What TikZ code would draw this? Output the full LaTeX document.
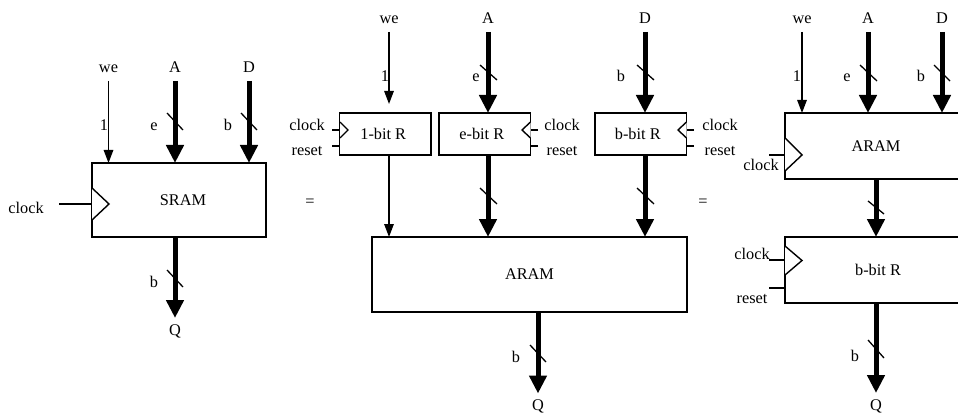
\documentclass[tikz,border=0pt]{standalone}
\usepackage{fontspec}
\setmainfont{Liberation Serif}
\usetikzlibrary{arrows.meta}
\tikzset{
  x=1pt,y=-1pt,
  every node/.style={font=\fontsize{16.3}{18}\selectfont,text=black},
  lab/.style={inner sep=0pt,outer sep=0pt,text height=13pt,text depth=2pt},
  term/.style={lab,minimum height=28pt},
  qterm/.style={lab,minimum height=23pt},
  blk/.style={draw=black,line width=1.4pt,fill=white,inner sep=0pt,outer sep=0pt},
  wire/.style={line width=1.4pt,draw=black},
  bus/.style={line width=5pt,draw=black},
  thinarrow/.style={wire,-{Triangle[length=13pt,width=9.5pt]}},
  busarrow/.style={bus,-{Triangle[length=18pt,width=17pt]}},
  slash/.style={line width=1.3pt,draw=black},
  tick/.style={wire},
  clk/.style={wire,fill=white,line join=miter},
}
\begin{document}
\begin{tikzpicture}
\clip (0,0) rectangle (958,414);
\fill[white] (0,0) rectangle (958,414);

% ---- left: SRAM
\node[blk,minimum width=174pt,minimum height=74pt] (sram) at (179,200) {\hspace*{8pt}SRAM};
\node[term] (we1) at (108.5,67) {we};
\node[term] (a1) at (175,67) {A};
\node[term] (d1) at (249,67) {D};
\node[qterm] (q1) at (175,329.5) {Q};
\node[lab] (n1) at (104,125) {1};
\node[lab] (e1) at (154,125) {e};
\node[lab] (b1) at (228,125) {b};
\node[lab] (b1o) at (154,282) {b};
\node[lab] (ck1t) at (26,208) {clock};
\node[lab] (eq1) at (310,201) {=};
\coordinate (ck1) at (59,204);
\draw[thinarrow] (we1.south) -- (we1.south |- sram.north);
\draw[busarrow] (a1.south) -- (a1.south |- sram.north);
\draw[busarrow] (d1.south) -- (d1.south |- sram.north);
\draw[busarrow] (a1.south |- sram.south) -- (q1.north);
\draw[wire] (ck1) -- (ck1 -| sram.west);
\draw[clk] (92,188) -- (109,204) -- (92,220);
\draw[slash] (167,113) -- (183,130);
\draw[slash] (241,113) -- (257,130);
\draw[slash] (167,270) -- (183,287);

% ---- middle
\node[blk,minimum width=91.5pt,minimum height=42pt] (r1) at (385.25,134) {\hspace*{-4pt}1-bit R};
\node[blk,minimum width=91.5pt,minimum height=42pt] (re) at (484.75,134) {\hspace*{-6pt}e-bit R};
\node[blk,minimum width=91.5pt,minimum height=42pt] (rb) at (640.75,134) {\hspace*{-6pt}b-bit R};
\node[blk,minimum width=315pt,minimum height=75pt] (aram) at (529.5,274.5) {ARAM};
\node[term] (we2) at (389,18) {we};
\node[term] (a2) at (488,18) {A};
\node[term] (d2) at (645,18) {D};
\node[qterm] (q2) at (538,405) {Q};
\node[lab] (n2) at (385,76) {1};
\node[lab] (e2) at (476,76) {e};
\node[lab] (b2) at (621,76) {b};
\node[lab] (b2o) at (516,357) {b};
\node[lab] (ck2a) at (307,125) {clock};
\node[lab] (rs2a) at (307,150) {reset};
\node[lab] (ck2b) at (562,125) {clock};
\node[lab] (rs2b) at (562,150) {reset};
\node[lab] (ck2c) at (720,125) {clock};
\node[lab] (rs2c) at (720,150) {reset};
\node[lab] (eq2) at (703,201) {=};
\draw[thinarrow,shorten >=9pt] (we2.south) -- (we2.south |- r1.north);
\draw[busarrow] (a2.south) -- (a2.south |- re.north);
\draw[busarrow] (d2.south) -- (d2.south |- rb.north);
\draw[thinarrow] (we2.south |- r1.south) -- (we2.south |- aram.north);
\draw[busarrow] (a2.south |- re.south) -- (a2.south |- aram.north);
\draw[busarrow] (d2.south |- rb.south) -- (d2.south |- aram.north);
\draw[busarrow] (q2.north |- aram.south) -- (q2.north);
\coordinate (t1) at (332,130); \coordinate (t2) at (332,146);
\coordinate (t3) at (538,130); \coordinate (t4) at (538,146);
\coordinate (t5) at (694,130); \coordinate (t6) at (694,146);
\draw[tick] (t1) -- (t1 -| r1.west);
\draw[tick] (t2) -- (t2 -| r1.west);
\draw[tick] (t3) -- (t3 -| re.east);
\draw[tick] (t4) -- (t4 -| re.east);
\draw[tick] (t5) -- (t5 -| rb.east);
\draw[tick] (t6) -- (t6 -| rb.east);
\draw[clk] (340,122) -- (348,130) -- (340,138);
\draw[clk] (530.5,122) -- (522,130) -- (530.5,138);
\draw[clk] (686.5,122) -- (678,130) -- (686.5,138);
\draw[slash] (480,65) -- (497,80);
\draw[slash] (637,65) -- (654,80);
\draw[slash] (480,188) -- (497,204);
\draw[slash] (637,188) -- (654,204);
\draw[slash] (530,345) -- (546,362);

% ---- right
\node[blk,minimum width=182pt,minimum height=66pt] (ar3) at (876,146) {ARAM};
\node[blk,minimum width=182pt,minimum height=66pt] (rb3) at (876,270) {\hspace*{4pt}b-bit R};
\node[term] (we3) at (802,18) {we};
\node[term] (a3) at (868,18) {A};
\node[term] (d3) at (942,18) {D};
\node[qterm] (q3) at (876,404.5) {Q};
\node[lab] (n3) at (797,76) {1};
\node[lab] (e3) at (847,76) {e};
\node[lab] (b3) at (921,76) {b};
\node[lab] (b3o) at (855,356) {b};
\node[lab] (ck3a) at (761,165) {clock};
\node[lab] (ck3b) at (752,254) {clock};
\node[lab] (rs3) at (752,298) {reset};
\draw[thinarrow] (we3.south) -- (we3.south |- ar3.north);
\draw[busarrow] (a3.south) -- (a3.south |- ar3.north);
\draw[busarrow] (d3.south) -- (d3.south |- ar3.north);
\draw[busarrow] (q3.north |- ar3.south) -- (q3.north |- rb3.north);
\draw[busarrow] (q3.north |- rb3.south) -- (q3.north);
\coordinate (t7) at (769,155); \coordinate (t8) at (769,260); \coordinate (t9) at (769,288);
\draw[wire] (t7) -- (t7 -| ar3.west);
\draw[wire] (t8) -- (t8 -| rb3.west);
\draw[wire] (t9) -- (t9 -| rb3.west);
\draw[clk] (785,138) -- (802,155) -- (785,171);
\draw[clk] (785,246) -- (802,260.5) -- (785,275);
\draw[slash] (860,65) -- (877,81);
\draw[slash] (934,65) -- (950,81);
\draw[slash] (868,201) -- (884,214);
\draw[slash] (868,340) -- (884,358);
\end{tikzpicture}
\end{document}
